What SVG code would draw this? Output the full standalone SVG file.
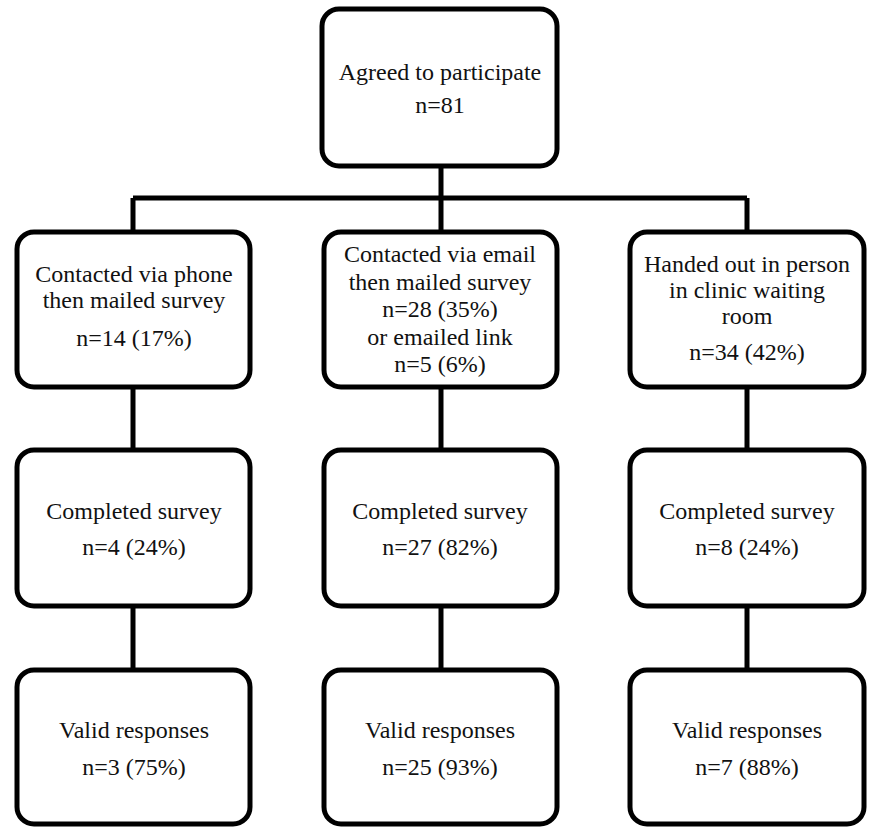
<svg xmlns="http://www.w3.org/2000/svg" width="871" height="827" viewBox="0 0 871 827">
<style>
.box{fill:#fff;stroke:#000;stroke-width:5}
.ln{fill:none;stroke:#000;stroke-width:5}
text{font-family:"Liberation Serif","Times New Roman",serif;font-size:24px;fill:#111;text-anchor:middle}
</style>
<rect width="871" height="827" fill="#fff"/>
<g id="connectors">
<path class="ln" d="M441 166V198M133 198H747M133 198V232M441 198V232M747 198V232"/>
<path class="ln" d="M133 387V450M441 387V450M747 387V450"/>
<path class="ln" d="M133 606V670M441 606V670M747 606V670"/>
</g>
<g id="n0"><rect class="box" x="322" y="9" width="235" height="157" rx="17"/>
<text x="440" y="80">Agreed to participate</text><text x="440" y="113">n=81</text></g>
<g id="n1"><rect class="box" x="17" y="232" width="233" height="155" rx="17"/>
<text x="134" y="282">Contacted via phone</text><text x="134" y="308">then mailed survey</text><text x="134" y="346">n=14 (17%)</text></g>
<g id="n2"><rect class="box" x="324" y="232" width="233" height="155" rx="17"/>
<text x="440" y="262">Contacted via email</text><text x="440" y="290">then mailed survey</text><text x="440" y="317">n=28 (35%)</text><text x="440" y="345">or emailed link</text><text x="440" y="372">n=5 (6%)</text></g>
<g id="n3"><rect class="box" x="630" y="232" width="234" height="155" rx="17"/>
<text x="747" y="272">Handed out in person</text><text x="747" y="298">in clinic waiting</text><text x="747" y="324">room</text><text x="747" y="360">n=34 (42%)</text></g>
<g id="n4"><rect class="box" x="17" y="450" width="233" height="156" rx="17"/>
<text x="134" y="519">Completed survey</text><text x="134" y="555">n=4 (24%)</text></g>
<g id="n5"><rect class="box" x="324" y="450" width="233" height="156" rx="17"/>
<text x="440" y="519">Completed survey</text><text x="440" y="555">n=27 (82%)</text></g>
<g id="n6"><rect class="box" x="630" y="450" width="234" height="156" rx="17"/>
<text x="747" y="519">Completed survey</text><text x="747" y="555">n=8 (24%)</text></g>
<g id="n7"><rect class="box" x="17" y="670" width="233" height="154" rx="17"/>
<text x="134" y="738">Valid responses</text><text x="134" y="775">n=3 (75%)</text></g>
<g id="n8"><rect class="box" x="324" y="670" width="233" height="154" rx="17"/>
<text x="440" y="738">Valid responses</text><text x="440" y="775">n=25 (93%)</text></g>
<g id="n9"><rect class="box" x="630" y="670" width="234" height="154" rx="17"/>
<text x="747" y="738">Valid responses</text><text x="747" y="775">n=7 (88%)</text></g>
</svg>
